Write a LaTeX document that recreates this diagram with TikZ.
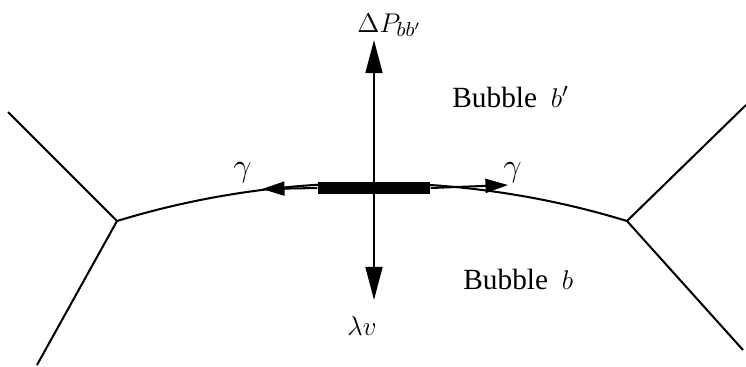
\documentclass[tikz,border=0pt,12pt]{standalone}
\usepackage{fontspec}
\setmainfont{Liberation Serif}
\usepackage{tikz}
\usetikzlibrary{arrows.meta, positioning}
\tikzset{
  film/.style={line width=0.9pt, color=black},
  filmbar/.style={rectangle, fill=black, inner sep=0pt,
    minimum width=1.75cm, minimum height=0.18cm},
  bigarrow/.style={-{Triangle[length=14.7pt, width=7.5pt]}, line width=0.9pt},
  smallarrow/.style={-{Triangle[length=10pt, width=6.2pt]}, line width=0.9pt},
  txtlabel/.style={inner sep=0pt, anchor=base west,
    font=\fontsize{13}{15}\selectfont},
  mathlabel/.style={inner sep=0pt, anchor=base west,
    font=\fontsize{13}{15}\selectfont}
}

\begin{document}
\begin{tikzpicture}[x=0.0156cm, y=0.0156cm]
  \useasboundingbox (0,0) rectangle (746,366);

  % triple junctions and their films
  \coordinate (vL) at (117,145);
  \coordinate (vR) at (627,145);
  \coordinate (lu) at (8,254);
  \coordinate (ld) at (37,1);
  \coordinate (ru) at (746,261);
  \coordinate (rd) at (743,16);

  \draw[film] (lu) -- (vL) -- (ld);
  \draw[film] (ru) -- (vR) -- (rd);
  \draw[film] (vL) to[bend left=17, looseness=0.87] (vR);

  % film element
  \node[filmbar] (bar) at (374,178) {};

  \coordinate (ptop) at (374,326);
  \coordinate (pbot) at (374,66);
  \coordinate (gL) at (262,177);
  \coordinate (gR) at (508,181);

  \draw[bigarrow] (bar.center) -- (ptop);
  \draw[bigarrow] (bar.center) -- (pbot);
  \draw[smallarrow] (bar.west) -- (gL);
  \draw[smallarrow] (bar.east) -- (gR);

  % labels
  \node[mathlabel] (dP) at (357,334) {$\Delta P_{bb'}$};
  \node[mathlabel] (lv) at (347,31) {$\lambda v$};
  \node[mathlabel, font=\fontsize{14}{16}\selectfont] (gamL) at (233,190) {$\gamma$};
  \node[mathlabel, font=\fontsize{14}{16}\selectfont] (gamR) at (503,190) {$\gamma$};
  \node[txtlabel] (bub1) at (452,259) {Bubble\hspace{0.22em} $b'$};
  \node[txtlabel] (bub0) at (463,77) {Bubble\hspace{0.22em} $b$};
\end{tikzpicture}
\end{document}
